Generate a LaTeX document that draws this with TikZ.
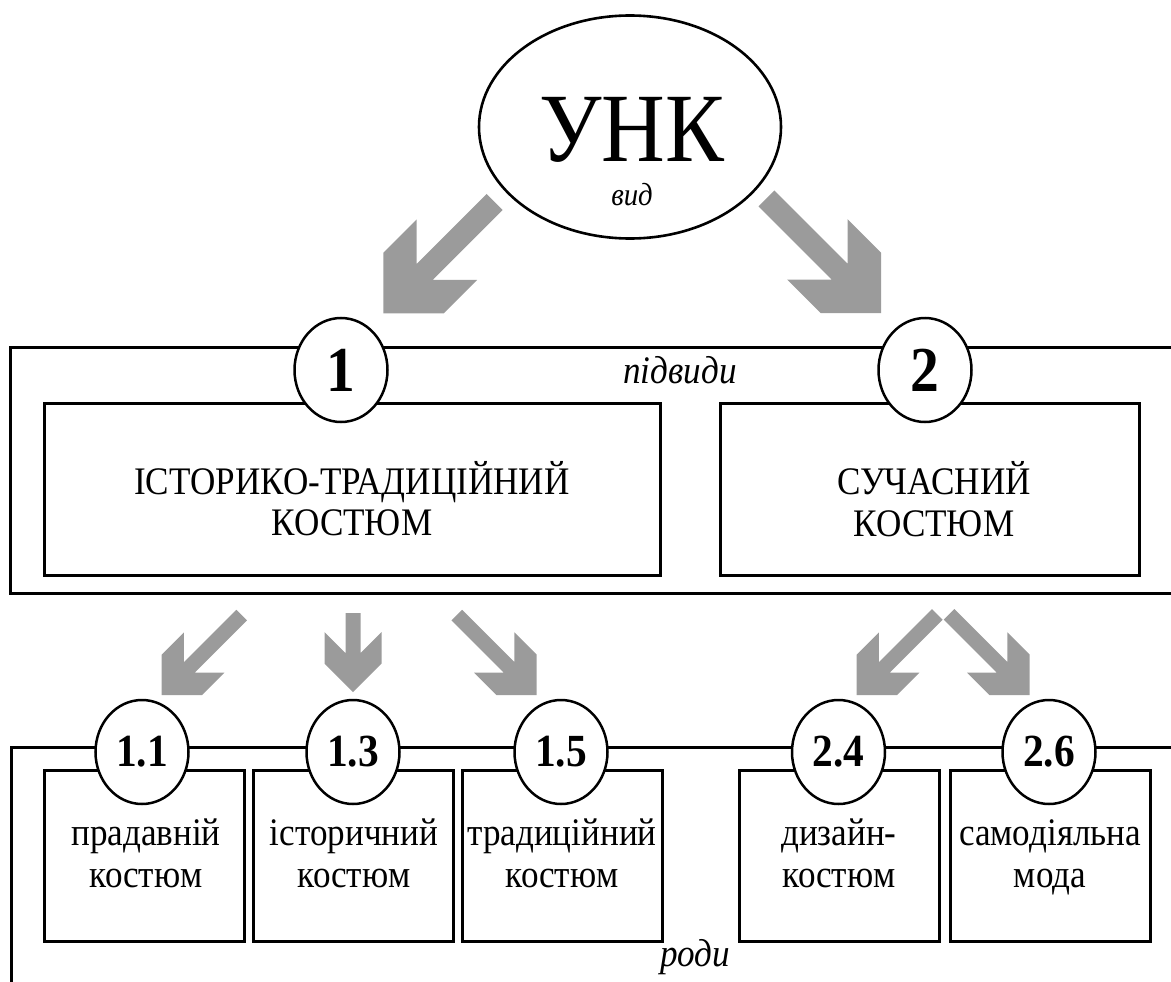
\documentclass[tikz,border=0pt]{standalone}
\usepackage{fontspec}
\setmainfont[FakeStretch=0.9]{Liberation Serif}
\usetikzlibrary{shapes.geometric}
\definecolor{arrowgray}{RGB}{155,155,155}
\newcommand{\fsz}[1]{\fontsize{#1}{#1}\selectfont}
% block arrow: tip x, tip y, rotation, shaft length, scale
\newcommand{\blockarrow}[5]{%
  \fill[arrowgray, shift={(#1,#2)}, rotate=#3, scale=#5]
    (0,0) -- (28.5,-28.5) -- (28.5,-60) -- (7.5,-39) -- (7.5,-#4)
    -- (-7.5,-#4) -- (-7.5,-39) -- (-28.5,-60) -- (-28.5,-28.5) -- cycle;}
\begin{document}
\begin{tikzpicture}[x=1pt, y=-1pt,
  framebox/.style={draw, line width=3pt, inner sep=0pt},
  kindbox/.style={framebox, fill=white, minimum width=200pt, minimum height=171pt},
  circ/.style={ellipse, draw, line width=2.5pt, fill=white, inner sep=0pt,
               minimum width=93pt, minimum height=104pt},
  bignum/.style={circ, font=\bfseries\fsz{64}},
  smallnum/.style={circ, font=\bfseries\fsz{46}},
  lbl/.style={font=\fsz{39}, inner sep=0pt, anchor=base},
  ilbl/.style={font=\itshape\fsz{39}, inner sep=0pt, anchor=base}]
\useasboundingbox (0,0) rectangle (1171,982);
\clip (0,0) rectangle (1171,982);

% outer frames
\node[framebox, minimum width=1170pt, minimum height=246pt] (subframe) at (595,470) {};
\node[framebox, minimum width=1168.5pt, minimum height=253pt] (genframe) at (595.75,873.5) {};

% top ellipse
\node[ellipse, draw, line width=2.6pt, fill=white, minimum width=302pt, minimum height=223pt, inner sep=0pt] (unk) at (630,127) {};
\node[font=\fsz{98}, inner sep=0pt, anchor=base, text depth=0pt] (unkt) at (631.5,161) {УНК};
\node[font=\itshape\fsz{32}, inner sep=0pt, anchor=base, text height=15pt] (vid) at (632,205) {вид};

% subtypes
\node[framebox, fill=white, minimum width=616pt, minimum height=172pt] (b1) at (352,489) {};
\node[framebox, fill=white, minimum width=419pt, minimum height=172pt] (b2) at (929.5,489) {};
\node[bignum] (c1) at (341,370) {1};
\node[bignum] (c2) at (925,370) {2};
\node[ilbl] (pidvydy) at (680,383) {підвиди};
\node[lbl] (t1a) at (352,494) {ІСТОРИКО-ТРАДИЦІЙНИЙ};
\node[lbl] (t1b) at (352,535) {КОСТЮМ};
\node[lbl] (t2a) at (934,494) {СУЧАСНИЙ};
\node[lbl] (t2b) at (934,536) {КОСТЮМ};

% kinds
\node[kindbox] (k11) at (144,855.5) {};
\node[kindbox] (k13) at (353,855.5) {};
\node[kindbox] (k15) at (562,855.5) {};
\node[kindbox] (k24) at (839,855.5) {};
\node[kindbox] (k26) at (1050,855.5) {};
\node[smallnum] (c11) at (142,752) {1.1};
\node[smallnum] (c13) at (353,752) {1.3};
\node[smallnum] (c15) at (561,752) {1.5};
\node[smallnum] (c24) at (838.5,752) {2.4};
\node[smallnum] (c26) at (1049,752) {2.6};

\node[lbl] (k11a) at (146,845) {прадавній};
\node[lbl] (k11b) at (146,887) {костюм};
\node[lbl] (k13a) at (354,845) {історичний};
\node[lbl] (k13b) at (354,887) {костюм};
\node[lbl] (k15a) at (562,845) {традиційний};
\node[lbl] (k15b) at (562,887) {костюм};
\node[lbl] (k24a) at (839,845) {дизайн-};
\node[lbl] (k24b) at (839,887) {костюм};
\node[lbl] (k26a) at (1050,845) {самодіяльна};
\node[lbl] (k26b) at (1050,887) {мода};
\node[ilbl] (rody) at (695,966) {роди};

% block arrows
\blockarrow{383.3}{313.3}{-45}{105}{1.5}
\blockarrow{881}{313}{45}{108}{1.5}
\blockarrow{161.7}{695}{-45}{113}{1}
\blockarrow{353}{692}{0}{79}{1}
\blockarrow{536.7}{695}{45}{113}{1}
\blockarrow{856.7}{695}{-45}{114}{1}
\blockarrow{1029.7}{695}{45}{114}{1}
\end{tikzpicture}
\end{document}
